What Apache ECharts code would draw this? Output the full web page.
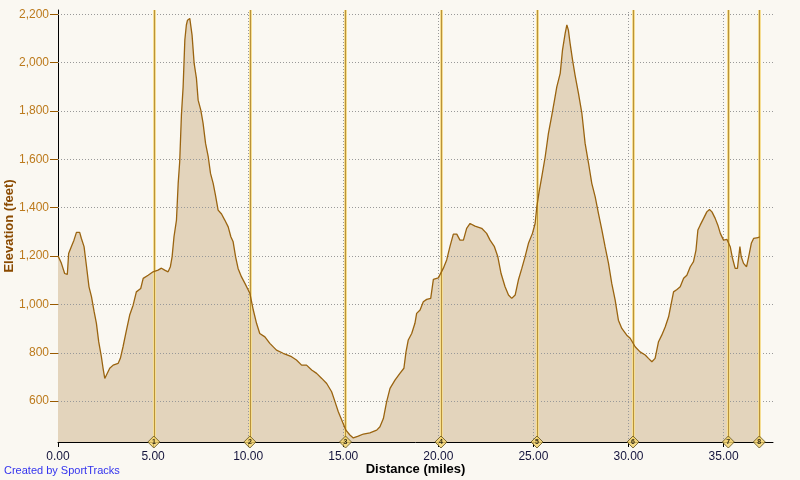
<!DOCTYPE html>
<html>
<head>
<meta charset="utf-8">
<script src="https://cdn.jsdelivr.net/npm/echarts@6/dist/echarts.min.js"></script>
<style>
html,body{margin:0;padding:0;background:#FAF8F2;}
#chart{width:800px;height:480px;}
</style>
</head>
<body>
<div id="chart"></div>
<script>
// ---- data ----
const distance = [0.00,0.18,0.35,0.49,0.56,0.70,0.84,0.97,1.14,1.23,1.37,1.49,1.63,1.76,1.90,2.02,2.14,2.28,2.37,2.46,2.55,2.72,2.90,3.16,3.28,3.42,3.60,3.77,3.95,4.12,4.35,4.48,4.74,5.00,5.26,5.44,5.61,5.79,5.91,6.00,6.10,6.23,6.32,6.40,6.49,6.58,6.67,6.75,6.81,6.93,7.05,7.16,7.28,7.37,7.51,7.63,7.76,7.90,8.02,8.16,8.28,8.42,8.60,8.77,8.95,9.09,9.21,9.34,9.47,9.65,9.83,10.09,10.27,10.44,10.61,10.88,11.14,11.49,11.84,12.28,12.54,12.81,13.07,13.34,13.60,13.87,14.13,14.39,14.57,14.74,14.92,15.14,15.35,15.53,15.79,16.06,16.40,16.76,16.93,17.11,17.28,17.46,17.72,17.98,18.19,18.30,18.42,18.60,18.77,18.86,19.04,19.21,19.39,19.60,19.74,20.00,20.09,20.26,20.44,20.61,20.79,20.97,21.14,21.32,21.49,21.67,21.93,22.28,22.54,22.72,22.95,23.13,23.30,23.51,23.69,23.86,24.04,24.21,24.39,24.56,24.74,24.95,25.09,25.18,25.30,25.44,25.62,25.79,25.97,26.11,26.23,26.41,26.53,26.67,26.76,26.84,26.93,27.06,27.19,27.37,27.55,27.72,27.90,28.07,28.25,28.42,28.60,28.77,28.95,29.12,29.30,29.47,29.65,29.91,30.09,30.35,30.61,30.88,31.05,31.23,31.40,31.58,31.75,31.93,32.11,32.25,32.37,32.55,32.72,32.90,33.07,33.25,33.42,33.55,33.65,33.77,33.95,34.12,34.26,34.39,34.56,34.70,34.83,35.00,35.18,35.35,35.47,35.61,35.73,35.79,35.86,35.93,36.05,36.21,36.32,36.46,36.58,36.81,36.90];
const elevation = [1201,1170,1128,1124,1211,1239,1266,1298,1298,1273,1239,1163,1073,1032,970,922,846,784,736,694,701,736,749,756,777,825,894,956,997,1052,1066,1108,1121,1135,1142,1150,1142,1135,1156,1197,1280,1349,1501,1590,1783,1900,2094,2156,2176,2183,2114,1997,1935,1845,1804,1749,1666,1611,1542,1501,1452,1390,1374,1349,1321,1280,1259,1197,1149,1114,1087,1046,977,922,880,866,839,811,798,784,770,749,749,729,715,694,673,639,597,556,522,480,460,448,455,464,469,480,494,528,597,653,687,715,736,804,853,880,922,963,977,1011,1021,1025,1104,1110,1114,1149,1184,1239,1291,1291,1266,1266,1315,1335,1324,1315,1294,1266,1239,1197,1128,1073,1039,1025,1039,1101,1149,1197,1253,1294,1335,1404,1466,1528,1611,1708,1783,1845,1900,1956,2052,2121,2156,2135,2080,2011,1949,1873,1790,1666,1584,1501,1445,1377,1308,1239,1170,1087,1018,935,901,873,860,825,804,791,777,763,777,846,873,907,949,1004,1052,1062,1073,1108,1121,1156,1177,1225,1308,1328,1356,1383,1393,1383,1356,1328,1294,1266,1269,1239,1191,1149,1149,1191,1239,1197,1170,1156,1197,1253,1273,1276,1280];
const lapDistances = [5.04,10.09,15.12,20.14,25.19,30.24,35.25,36.88];
const lapLabels = ['1','2','3','4','5','6','7','8'];
const xTicks = [0,5,10,15,20,25,30,35];
const yTicks = [600,800,1000,1200,1400,1600,1800,2000,2200];
const xMin = 0, xMax = 37.6;
const yMin = 431, yMax = 2218;

const profile = distance.map((d,i)=>[d, elevation[i]]);
const FONT = "'Liberation Sans', Arial, sans-serif";

const chart = echarts.init(document.getElementById('chart'), null, {renderer:'canvas'});
chart.setOption({
  backgroundColor: '#FAF8F2',
  animation: false,
  grid: {left: 58, right: 27, top: 10, bottom: 38, containLabel: false, outerBoundsMode: 'none'},
  xAxis: {
    type: 'value', min: xMin, max: xMax,
    name: 'Distance (miles)', nameLocation: 'middle', nameGap: 21, nameMoveOverlap: false,
    nameTextStyle: {fontFamily: FONT, fontSize: 13, fontWeight: 'bold', color: '#000'},
    axisLine: {show: true, lineStyle: {color: '#000', width: 1}},
    axisTick: {show: true, length: 5, lineStyle: {color: '#000'}, customValues: xTicks},
    axisLabel: {show: true, margin: 9, fontFamily: FONT, fontSize: 12, color: '#14143C',
      customValues: xTicks, formatter: v => v.toFixed(2)},
    splitLine: {show: false}
  },
  yAxis: {
    type: 'value', min: yMin, max: yMax,
    name: 'Elevation (feet)', nameLocation: 'middle', nameGap: 42, nameMoveOverlap: false,
    nameTextStyle: {fontFamily: FONT, fontSize: 13, fontWeight: 'bold', color: '#8A4A00'},
    axisLine: {show: true, lineStyle: {color: '#000', width: 1}},
    axisTick: {show: true, length: 8, lineStyle: {color: '#9A5A00'}, customValues: yTicks},
    axisLabel: {show: true, margin: 9, fontFamily: FONT, fontSize: 12, color: '#BC7A1C',
      customValues: yTicks, formatter: v => v.toLocaleString('en-US')},
    splitLine: {show: false}
  },
  graphic: [{
    type: 'text', left: 4, top: 465,
    style: {text: 'Created by SportTracks', fill: '#3333EE', font: "11px 'Liberation Sans', Arial, sans-serif"}
  }],
  series: [
    { // area fill
      type: 'line', data: profile, showSymbol: false, silent: true, z: 1,
      lineStyle: {opacity: 0, width: 0},
      areaStyle: {color: '#E3D4BC', opacity: 1, origin: 'start'}
    },
    { // grid lines over fill
      type: 'line', data: profile, showSymbol: false, silent: true, z: 2,
      lineStyle: {opacity: 0, width: 0},
      markLine: {
        silent: true, symbol: 'none', label: {show: false}, animation: false,
        lineStyle: {color: '#999999', width: 1, type: [1, 2]},
        data: yTicks.map(v => ({yAxis: v})).concat(xTicks.filter(v => v > xMin).map(v => ({xAxis: v})))
      }
    },
    { // lap marker lines (light halo)
      type: 'line', data: profile, showSymbol: false, silent: true, z: 3,
      lineStyle: {opacity: 0, width: 0},
      markLine: {
        silent: true, symbol: 'none', label: {show: false}, animation: false,
        lineStyle: {color: '#F6DE92', width: 3, type: 'solid'},
        data: lapDistances.map(v => ({xAxis: v}))
      }
    },
    { // lap marker lines (dark core)
      type: 'line', data: profile, showSymbol: false, silent: true, z: 4,
      lineStyle: {color: '#B8923A', width: 1, type: 'solid'},
      lineStyle: {opacity: 0, width: 0},
      markLine: {
        silent: true, symbol: 'none', label: {show: false}, animation: false,
        lineStyle: {color: '#B8923A', width: 1, type: 'solid'},
        data: lapDistances.map(v => ({xAxis: v}))
      }
    },
    { // profile line
      type: 'line', data: profile, showSymbol: false, silent: true, z: 5,
      lineStyle: {color: '#9A6410', width: 1.3}
    },
    { // lap diamonds
      type: 'scatter', z: 10, clip: false, silent: true,
      data: lapDistances.map(v => [v, yMin]),
      symbol: 'diamond', symbolSize: 12,
      itemStyle: {color: '#F5D36A', borderColor: '#5E4E1A', borderWidth: 1},
      label: {show: true, position: 'inside', fontFamily: FONT, fontSize: 7, fontWeight: 'bold', color: '#000',
        formatter: p => lapLabels[p.dataIndex]}
    }
  ]
});
</script>
</body>
</html>
